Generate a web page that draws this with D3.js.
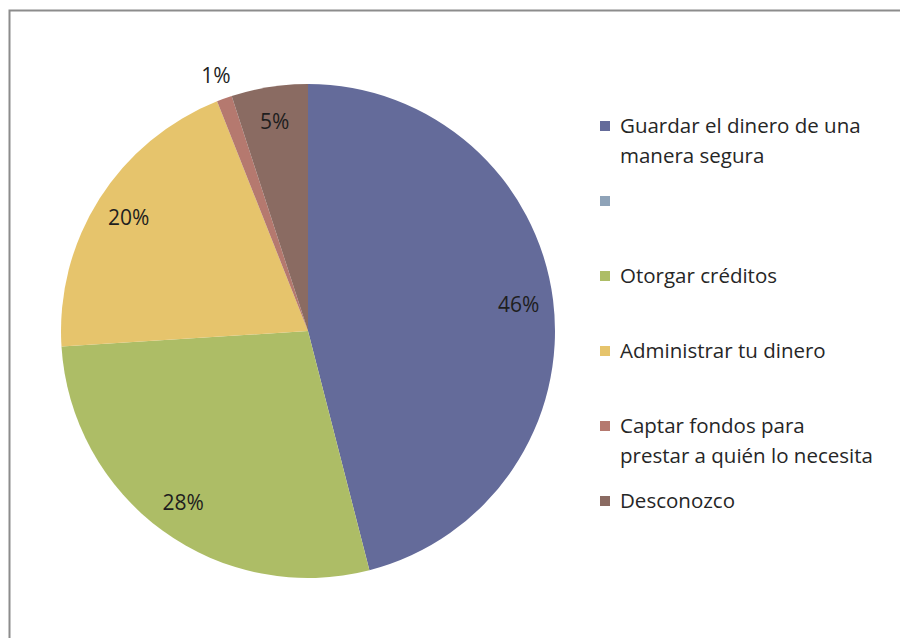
<!DOCTYPE html>
<html>
<head>
<meta charset="utf-8">
<script src="https://cdn.jsdelivr.net/npm/d3@7"></script>
<style>
  body { margin: 0; background: #fff; }
  svg text { font-family: "Open Sans", "Noto Sans", sans-serif; }
</style>
</head>
<body>
<svg id="chart"></svg>
<script>
// categories in legend order (second one has no label and no share)
const categories = [
  ["Guardar el dinero de una", "manera segura"],
  [""],
  ["Otorgar créditos"],
  ["Administrar tu dinero"],
  ["Captar fondos para", "prestar a quién lo necesita"],
  ["Desconozco"]
];
const shares = [46, 0, 28, 20, 1, 5];
const colors = ["#646b9a", "#8fa3b8", "#adbd66", "#e6c46c", "#b5796f", "#8a6b62"];

let svg = d3.select("svg#chart")
  .attr("width", 900)
  .attr("height", 638);

// chart frame
svg.append("rect")
  .attr("x", 9.5).attr("y", 10.5)
  .attr("width", 900).attr("height", 640)
  .attr("fill", "#fff")
  .attr("stroke", "#8c8c8c").attr("stroke-width", 2);

const cx = 308, cy = 331, r = 247;
const data = categories.map((c, i) => ({lines: c, value: shares[i], color: colors[i]}));

const pie = d3.pie().value(d => d.value).sort(null);
const arc = d3.arc().innerRadius(0).outerRadius(r);
const arcs = pie(data);

const g = svg.append("g").attr("transform", `translate(${cx},${cy})`);

g.selectAll(".slice").data(arcs.filter(a => a.data.value > 0)).join("path")
  .attr("class", "slice")
  .attr("d", arc)
  .attr("fill", d => d.data.color);

// labels: inside for normal slices, just outside for tiny ones
const inner = d3.arc().innerRadius(r * 0.86).outerRadius(r * 0.86);
const outer = d3.arc().innerRadius(r * 1.1).outerRadius(r * 1.1);
g.selectAll(".lbl").data(arcs.filter(a => a.data.value > 0)).join("text")
  .attr("class", "lbl")
  .attr("transform", d => `translate(${(d.data.value < 2 ? outer : inner).centroid(d)})`)
  .attr("text-anchor", "middle")
  .attr("dy", "0.35em")
  .attr("font-size", 21)
  .attr("fill", "#1e1e1e")
  .text(d => d.data.value + "%");

// legend
const legendY = d3.scalePoint().domain(d3.range(categories.length)).range([126, 501]);
const leg = svg.selectAll(".leg").data(data).join("g")
  .attr("class", "leg")
  .attr("transform", (d, i) => `translate(600,${legendY(i)})`);

leg.append("rect")
  .attr("x", 0).attr("y", -5)
  .attr("width", 10).attr("height", 10)
  .attr("fill", d => d.color);

leg.append("text")
  .attr("x", 20)
  .attr("font-size", 20.5)
  .attr("fill", "#262626")
  .selectAll("tspan").data(d => d.lines).join("tspan")
  .attr("x", 20)
  .attr("y", (d, i) => i * 30)
  .attr("dy", "0.35em")
  .text(d => d);
</script>
</body>
</html>
